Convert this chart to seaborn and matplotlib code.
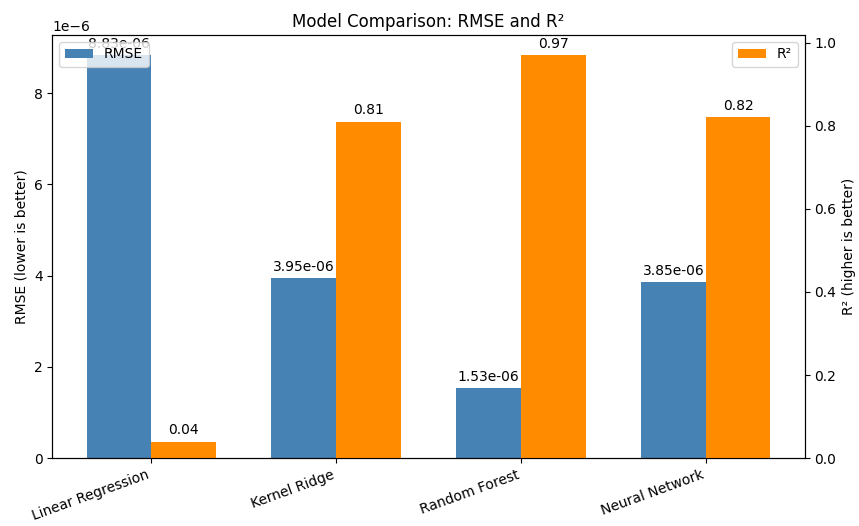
import matplotlib
matplotlib.use("Agg")
import matplotlib.pyplot as plt
import seaborn as sns
import pandas as pd

models = ["Linear Regression", "Kernel Ridge", "Random Forest", "Neural Network"]
rmse = [8.83e-06, 3.95e-06, 1.53e-06, 3.85e-06]
r2 = [0.04, 0.81, 0.97, 0.82]
metrics = ["RMSE", "R²"]
colors = {"RMSE": "steelblue", "R²": "darkorange"}

df_rmse = pd.DataFrame({"model": models, "value": rmse, "metric": "RMSE"})
df_r2 = pd.DataFrame({"model": models, "value": r2, "metric": "R²"})

fig, ax1 = plt.subplots(figsize=(8.59, 5.26), dpi=100)
sns.barplot(data=df_rmse, x="model", y="value", hue="metric", hue_order=metrics,
            order=models, palette=colors, saturation=1, width=0.7, dodge=True,
            ax=ax1, legend=False, errorbar=None)
ax2 = ax1.twinx()
sns.barplot(data=df_r2, x="model", y="value", hue="metric", hue_order=metrics,
            order=models, palette=colors, saturation=1, width=0.7, dodge=True,
            ax=ax2, legend=False, errorbar=None)


def real_containers(ax):
    return [c for c in ax.containers
            if len(c.patches) > 0 and all(p is not None for p in c.patches)]


c1 = real_containers(ax1)[0]
c2 = real_containers(ax2)[0]
ax1.bar_label(c1, labels=[f"{v:.2e}" for v in rmse], padding=3)
ax2.bar_label(c2, labels=[f"{v:.2f}" for v in r2], padding=3)

ax1.set_xlabel("")
ax2.set_xlabel("")
ax1.set_ylabel("RMSE (lower is better)")
ax2.set_ylabel("R² (higher is better)")
ax1.set_title("Model Comparison: RMSE and R²")
ax1.set_xticks(range(len(models)))
ax1.set_xticklabels(models, rotation=20, ha="right")
ax1.set_xlim(-0.535, len(models) - 1 + 0.535)

ax1.legend([c1], ["RMSE"], loc="upper left")
ax2.legend([c2], ["R²"], loc="upper right")

fig.subplots_adjust(left=0.0611, right=0.9366, top=0.9335, bottom=0.129)
fig.savefig("out.png", dpi=100)
